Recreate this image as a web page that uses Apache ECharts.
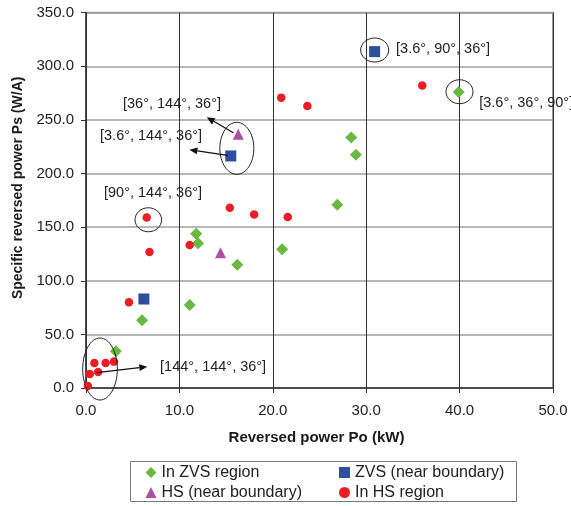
<!DOCTYPE html>
<html>
<head>
<meta charset="utf-8">
<script src="https://cdn.jsdelivr.net/npm/echarts@6/dist/echarts.min.js"></script>
<style>
html,body{margin:0;padding:0;background:#fff;}
#chart{width:571px;height:506px;}
</style>
</head>
<body>
<div id="chart"></div>
<script>
// ---- data ----
var seriesNames = ['In ZVS region', 'ZVS (near boundary)', 'HS (near boundary)', 'In HS region'];
var xTicks = [0, 10, 20, 30, 40, 50];
var yTicks = [0, 50, 100, 150, 200, 250, 300, 350];

var inZVS = [[3.2,34.2],[6.0,63.1],[11.1,77.4],[11.8,143.9],[12.0,135.0],[16.2,115.0],[21.0,129.4],[26.9,171.0],[28.4,233.5],[28.9,217.6],[39.9,276.0]];
var zvsNear = [[6.2,83.0],[15.5,216.4],[30.9,313.7]];
var hsNear = [[16.3,236.6],[14.4,126.2]];
var inHS = [[0.2,1.9],[0.4,13.0],[0.9,23.3],[1.3,14.9],[2.1,23.3],[3.0,24.6],[4.6,79.9],[6.5,158.9],[6.8,126.9],[11.1,133.4],[15.4,168.2],[18.0,161.7],[21.6,159.5],[20.9,270.8],[23.7,263.0],[36.0,282.0]];

// annotation labels (anchored in data coordinates)
var annoTexts = ['[3.6°, 90°, 36°]', '[3.6°, 36°, 90°]', '[36°, 144°, 36°]', '[3.6°, 144°, 36°]', '[90°, 144°, 36°]', '[144°, 144°, 36°]'];
var annoTextAt = [[33.2,316.1],[42.1,265.8],[3.96,264.8],[1.5,235.0],[1.93,181.8],[7.93,19.9]];
var ellipseAt = [[30.91,315.2],[39.99,276.3],[16.15,223.5],[6.67,156.9],[1.5,17.7]];
var ellipseR = [[14,12],[13.5,12],[17,26],[13.3,12],[17.3,31]];
var arrows = [[[15.78,238.1],[12.93,252.4]],[[15.18,217.0],[11.07,222.2]],[[1.15,14.3],[6.57,19.9]]];

var FONT = '"Liberation Sans", Arial, sans-serif';
var colors = ['#67b93f', '#2d4d9d', '#b04fa6', '#ee1d24'];

var chart = echarts.init(document.getElementById('chart'), null, {renderer: 'canvas'});

var option = {
  animation: false,
  backgroundColor: '#fff',
  textStyle: {fontFamily: FONT},
  grid: {left: 86, right: 18, top: 12.7, bottom: 118, show: true, borderColor: '#9a9a9a', borderWidth: 2, backgroundColor: 'transparent'},
  xAxis: {
    type: 'value', min: xTicks[0], max: xTicks[xTicks.length-1], interval: xTicks[1]-xTicks[0],
    name: 'Reversed power Po (kW)', nameLocation: 'middle', nameGap: 42,
    nameTextStyle: {fontSize: 15, fontWeight: 'bold', color: '#1a1a1a', fontFamily: FONT, padding: [0, 6, 0, 0]},
    axisLine: {show: true, lineStyle: {color: '#333', width: 1.5}},
    axisTick: {show: true, inside: false, length: 5, lineStyle: {color: '#333'}},
    axisLabel: {fontSize: 15, color: '#222', margin: 15, fontFamily: FONT, formatter: function (v) { return v.toFixed(1); }},
    splitLine: {show: true, lineStyle: {color: '#333', width: 1}}
  },
  yAxis: {
    type: 'value', min: yTicks[0], max: yTicks[yTicks.length-1], interval: yTicks[1]-yTicks[0],
    name: 'Specific reversed power Ps (W/A)', nameLocation: 'middle', nameGap: 60, nameRotate: 90,
    nameTextStyle: {fontSize: 14, fontWeight: 'bold', color: '#1a1a1a', fontFamily: FONT, padding: [0, 0, 0, 25]},
    axisLine: {show: true, lineStyle: {color: '#333', width: 1.5}},
    axisTick: {show: true, inside: false, length: 5, lineStyle: {color: '#333'}},
    axisLabel: {fontSize: 15, color: '#222', margin: 12, fontFamily: FONT, formatter: function (v) { return v.toFixed(1); }},
    splitLine: {show: true, lineStyle: {color: '#a0a0a0', width: 1.5}}
  },
  legend: [
    {data: [seriesNames[0], seriesNames[2]], orient: 'vertical', left: 145.5, top: 464.5, padding: 0, height: 41, itemWidth: 11, itemHeight: 11, itemGap: 4,
     textStyle: {fontSize: 16, color: '#222', fontFamily: FONT}},
    {data: [seriesNames[1], seriesNames[3]], orient: 'vertical', left: 339, top: 464.5, padding: 0, height: 41, itemWidth: 11, itemHeight: 11, itemGap: 4,
     textStyle: {fontSize: 16, color: '#222', fontFamily: FONT}}
  ],
  series: [
    {name: seriesNames[0], type: 'scatter', data: inZVS, symbol: 'diamond', symbolSize: 12, itemStyle: {color: colors[0], opacity: 1}},
    {name: seriesNames[1], type: 'scatter', data: zvsNear, symbol: 'rect', symbolSize: 11, itemStyle: {color: colors[1], opacity: 1}},
    {name: seriesNames[2], type: 'scatter', data: hsNear, symbol: 'triangle', symbolSize: 11, itemStyle: {color: colors[2], opacity: 1}},
    {name: seriesNames[3], type: 'scatter', data: inHS, symbol: 'circle', symbolSize: 8.5, itemStyle: {color: colors[3], opacity: 1}}
  ]
};
chart.setOption(option);

function px(p) { return chart.convertToPixel({gridIndex: 0}, p); }
var g = [];
// legend border
g.push({type: 'rect', shape: {x: 130.5, y: 461.5, width: 386, height: 40}, style: {fill: 'none', stroke: '#777', lineWidth: 1}, z: 1});
ellipseAt.forEach(function (c, i) {
  var p = px(c);
  g.push({type: 'ellipse', shape: {cx: p[0], cy: p[1], rx: ellipseR[i][0], ry: ellipseR[i][1]}, style: {fill: 'none', stroke: '#222', lineWidth: 1}, z: 100});
});
arrows.forEach(function (a) {
  var s = px(a[0]), e = px(a[1]);
  var dx = e[0]-s[0], dy = e[1]-s[1], L = Math.sqrt(dx*dx+dy*dy), ux = dx/L, uy = dy/L;
  var hl = 8, hw = 3.5;
  var bx = e[0]-ux*hl, by = e[1]-uy*hl;
  g.push({type: 'line', shape: {x1: s[0], y1: s[1], x2: bx, y2: by}, style: {stroke: '#111', lineWidth: 1.2}, z: 100});
  g.push({type: 'polygon', shape: {points: [[e[0], e[1]], [bx - uy*hw, by + ux*hw], [bx + uy*hw, by - ux*hw]]}, style: {fill: '#111'}, z: 100});
});
annoTexts.forEach(function (t, i) {
  var p = px(annoTextAt[i]);
  g.push({type: 'text', x: p[0], y: p[1], style: {text: t, fontSize: 14.5, fontFamily: FONT, fill: '#222', align: 'left', verticalAlign: 'middle', backgroundColor: 'transparent'}, z: 100});
});
chart.setOption({graphic: g});
</script>
</body>
</html>
